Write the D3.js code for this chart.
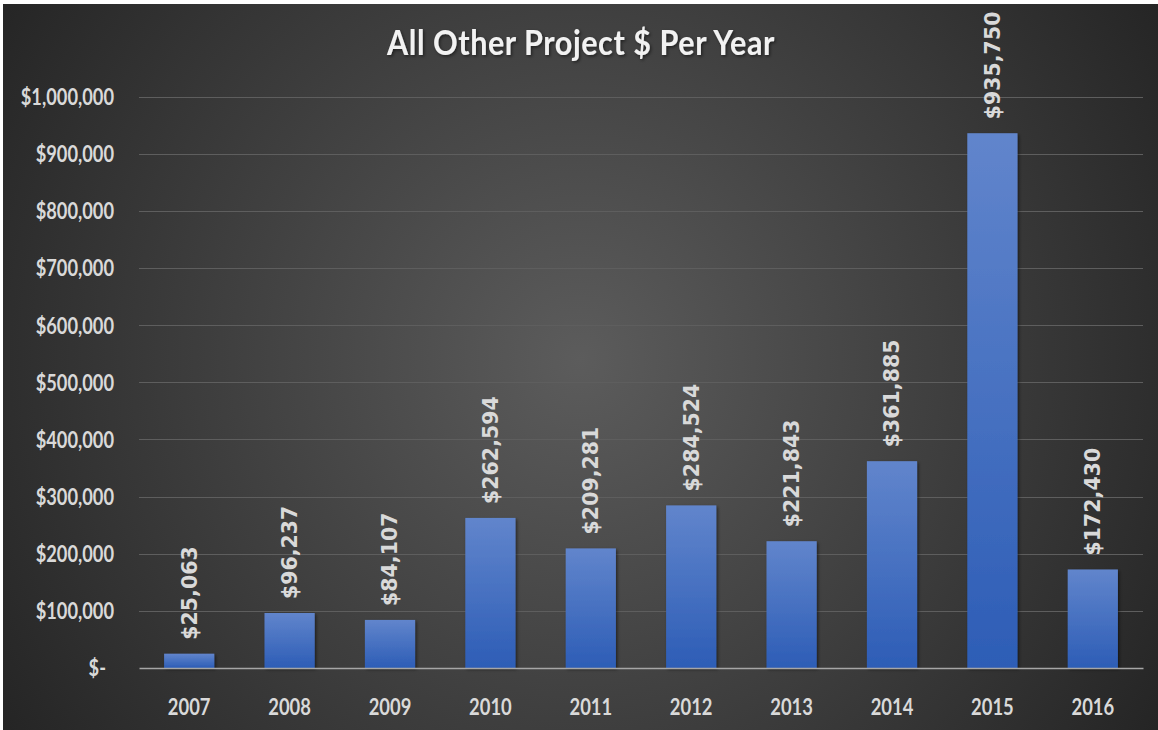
<!DOCTYPE html>
<html>
<head>
<meta charset="utf-8">
<script src="https://cdn.jsdelivr.net/npm/d3@7"></script>
<style>
  body { margin: 0; background: #fff; }
  svg { display: block; }
</style>
</head>
<body>
<div id="chart"></div>
<script>
// data
const years = ['2007', '2008', '2009', '2010', '2011', '2012', '2013', '2014', '2015', '2016'];
const amounts = [25063, 96237, 84107, 262594, 209281, 284524, 221843, 361885, 935750, 172430];
const yTicks = [0, 100000, 200000, 300000, 400000, 500000, 600000, 700000, 800000, 900000, 1000000];
const chartTitle = 'All Other Project $ Per Year';

const W = 1158, H = 730;
const margin = {top: 96.5, right: 15, bottom: 62, left: 139};

const svg = d3.select('#chart').append('svg').attr('width', W).attr('height', H);
const defs = svg.append('defs');

const bg = defs.append('radialGradient').attr('id', 'bg')
    .attr('gradientUnits', 'userSpaceOnUse')
    .attr('cx', 580).attr('cy', 360).attr('r', 720);
bg.append('stop').attr('offset', '0%').attr('stop-color', '#5c5c5c');
bg.append('stop').attr('offset', '100%').attr('stop-color', '#222');

const barGrad = defs.append('linearGradient').attr('id', 'bar')
    .attr('x1', 0).attr('y1', 0).attr('x2', 0).attr('y2', 1);
barGrad.append('stop').attr('offset', '0%').attr('stop-color', '#6185cc');
barGrad.append('stop').attr('offset', '100%').attr('stop-color', '#2d5db6');

defs.append('filter').attr('id', 'shadow').attr('x', '-20%').attr('y', '-20%').attr('width', '150%').attr('height', '150%')
    .append('feDropShadow').attr('dx', 1.5).attr('dy', 1.5).attr('stdDeviation', 1.5)
    .attr('flood-color', '#000').attr('flood-opacity', 0.5);

svg.append('rect').attr('x', 3).attr('y', 4).attr('width', W - 3).attr('height', H - 4)
    .attr('fill', 'url(#bg)');

const x = d3.scaleBand().domain(years).range([margin.left, W - margin.right]).paddingInner(0.5).paddingOuter(0.25);
const y = d3.scaleLinear().domain([0, 1000000]).range([H - margin.bottom, margin.top]);

// squeeze humanist font horizontally to look like the original narrow face
function squeeze(sel, sx, dx) {
  sel.attr('x', 0).attr('transform', `translate(${dx},0) scale(${sx},1)`);
}

// gridlines
svg.append('g').selectAll('line').data(yTicks.slice(1)).join('line')
  .attr('x1', margin.left).attr('x2', W - margin.right)
  .attr('y1', d => Math.round(y(d)) + 0.5).attr('y2', d => Math.round(y(d)) + 0.5)
  .attr('stroke', '#5e5e5e').attr('stroke-width', 1);

// y axis labels
const fmt = d => d === 0 ? '$-' : '$' + d3.format(',')(d);
const yAxis = svg.append('g').attr('transform', `translate(${margin.left},0)`)
  .call(d3.axisLeft(y).tickValues(yTicks).tickFormat(fmt).tickSize(0));
yAxis.select('.domain').remove();
yAxis.selectAll('text')
  .attr('fill', '#d9d9d9').attr('font-family', 'Lato, sans-serif').attr('font-weight', 'bold')
  .attr('font-size', 22).attr('dy', '0.36em')
  .each(function(d) { squeeze(d3.select(this), 0.83, d === 0 ? -33 : -25); });

// bars
svg.append('g').selectAll('rect').data(amounts).join('rect')
  .attr('x', (d, i) => x(years[i]))
  .attr('width', x.bandwidth())
  .attr('y', d => y(d))
  .attr('height', d => y(0) - y(d))
  .attr('fill', 'url(#bar)')
  .attr('filter', 'url(#shadow)');

// x axis
const xAxis = svg.append('g').attr('transform', `translate(0,${y(0)})`)
  .call(d3.axisBottom(x).tickSize(0).tickSizeOuter(0));
xAxis.select('.domain').attr('stroke', '#a6a6a6').attr('stroke-width', 1.5);
xAxis.selectAll('text')
  .attr('fill', '#d9d9d9').attr('font-family', 'Lato, sans-serif').attr('font-weight', 'bold')
  .attr('font-size', 23).attr('y', 0).attr('dy', 0)
  .attr('transform', 'translate(0,47) scale(0.8,1)');

// value labels
svg.append('g').selectAll('text').data(amounts).join('text')
  .attr('transform', (d, i) => `translate(${x(years[i]) + x.bandwidth() / 2},${y(d) - 14}) rotate(-90)`)
  .attr('dy', '0.36em')
  .attr('fill', '#d9d9d9')
  .attr('font-family', 'DejaVu Sans, sans-serif').attr('font-weight', 'bold')
  .attr('font-size', 20.5)
  .text(d => '$' + d3.format(',')(d));

// title
svg.append('text')
  .attr('fill', '#f2f2f2').attr('font-family', 'Lato, sans-serif').attr('font-weight', 'bold')
  .attr('font-size', 34).attr('text-anchor', 'middle').attr('letter-spacing', 0.6)
  .attr('filter', 'url(#shadow)')
  .attr('transform', 'translate(581,55) scale(0.9,1)')
  .text(chartTitle);
</script>
</body>
</html>
